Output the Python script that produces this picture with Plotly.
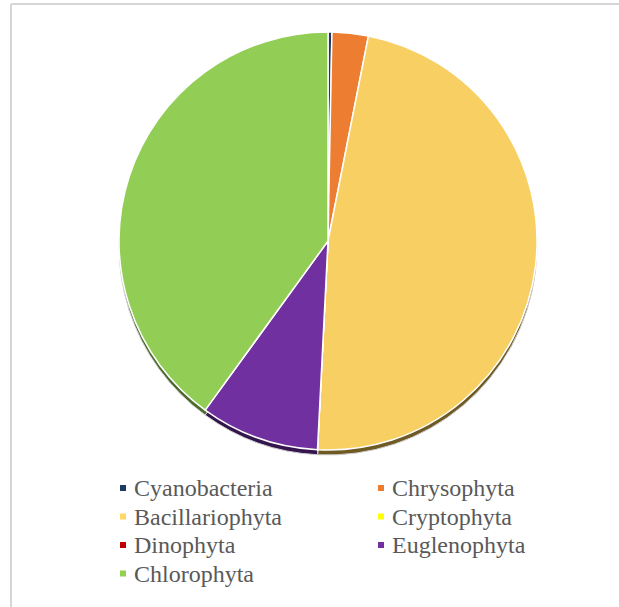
import plotly.graph_objects as go

labels = ["Cyanobacteria", "Chrysophyta", "Bacillariophyta", "Cryptophyta",
          "Dinophyta", "Euglenophyta", "Chlorophyta"]
values = [0.3, 2.8, 47.7, 0, 0, 9.2, 40.0]
colors = ["#1F3864", "#ED7D31", "#F7CF62", "#FFFF00", "#C00000", "#7030A0", "#92CD55"]
legend_colors = ["#1F3864", "#ED7D31", "#FFD966", "#FFFF00", "#C00000", "#7030A0", "#92D050"]
shadow_colors = ["#10203A", "#7A3E15", "#6E5A22", "#808000", "#600000", "#35154D", "#4A6A28"]

W, H = 619, 607
cx, cy, r = 328, 241, 209
dom_x = [(cx - r) / W, (cx + r) / W]
dom_y = [(H - (cy + r)) / H, (H - (cy - r)) / H]
off = 5 / H

fig = go.Figure()
fig.add_trace(go.Pie(
    labels=labels, values=values, sort=False, direction="clockwise", rotation=0,
    marker=dict(colors=shadow_colors, line=dict(color="#D0D0D0", width=1)),
    textinfo="none", hoverinfo="skip", showlegend=False,
    domain=dict(x=dom_x, y=[dom_y[0] - off, dom_y[1] - off]),
))
fig.add_trace(go.Pie(
    labels=labels, values=values, sort=False, direction="clockwise", rotation=0,
    marker=dict(colors=colors, line=dict(color="#FFFFFF", width=1.5)),
    textinfo="none", showlegend=False,
    domain=dict(x=dom_x, y=dom_y),
))

# manual two-column legend
leg_x0, leg_y0 = 123, 488      # first marker centre (px)
col_pitch, row_pitch = 258, 28.5
msize = 6
text_dx = 9
shapes = [
    dict(type="line", xref="paper", yref="paper", x0=11 / W, x1=1.02,
         y0=1 - 4 / H, y1=1 - 4 / H, line=dict(color="#D6D6D6", width=2)),
    dict(type="line", xref="paper", yref="paper", x0=11 / W, x1=11 / W,
         y0=-0.02, y1=1 - 4 / H, line=dict(color="#D6D6D6", width=2)),
]
annotations = []
for i, (lab, col) in enumerate(zip(labels, legend_colors)):
    mx = leg_x0 + (i % 2) * col_pitch
    my = leg_y0 + (i // 2) * row_pitch
    shapes.append(dict(type="rect", xref="paper", yref="paper",
                       x0=(mx - msize / 2) / W, x1=(mx + msize / 2) / W,
                       y0=1 - (my + msize / 2) / H, y1=1 - (my - msize / 2) / H,
                       fillcolor=col, line=dict(width=0)))
    annotations.append(dict(text=lab, xref="paper", yref="paper",
                            x=(mx + text_dx) / W, y=1 - my / H,
                            xanchor="left", yanchor="middle", showarrow=False,
                            font=dict(family="Liberation Serif", size=24, color="#595959")))

fig.update_layout(
    width=W, height=H,
    margin=dict(l=0, r=0, t=0, b=0, autoexpand=False),
    paper_bgcolor="white",
    showlegend=False,
    shapes=shapes,
    annotations=annotations,
)

fig.write_html("out.html")
